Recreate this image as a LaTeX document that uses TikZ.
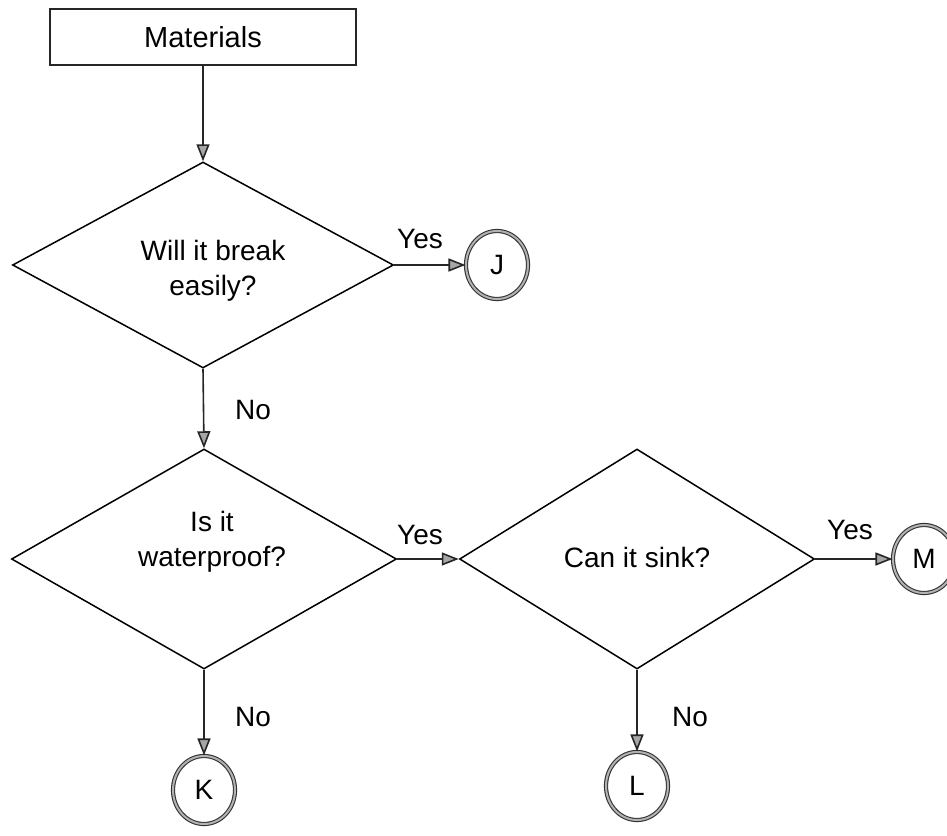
\documentclass[tikz,border=0pt]{standalone}
\usepackage{fontspec}
\setmainfont{Liberation Sans}
\usetikzlibrary{shapes.geometric,arrows.meta}
\begin{document}
\begin{tikzpicture}[x=1pt,y=-1pt,
  every node/.style={font=\fontsize{28}{35}\selectfont},
  proc/.style={draw=black!85, line width=1.5pt, minimum width=306pt, minimum height=56pt, inner sep=0pt, font=\fontsize{29}{35}\selectfont},
  decision/.style={draw=black, line width=1.5pt, diamond, inner sep=0pt},
  dtext/.style={align=center, inner sep=0pt},
  term/.style={draw=black!80, line width=1.1pt, double=gray!60, double distance=2pt, ellipse, minimum width=62pt, minimum height=68pt, inner sep=0pt},
  flow/.style={draw=black!85, line width=1.6pt, -{Triangle[length=17pt,width=13pt,fill=gray!70]}},
  lbl/.style={inner sep=0pt}
]
\useasboundingbox (0,0) rectangle (947,835);
% start box
\node[proc] (mat) at (203,37) {Materials};
% decisions
\node[decision, minimum width=381pt, minimum height=206pt] (d1) at (203,265) {};
\node[dtext] (t1) at (213,271) {Will it break\\easily?};
\node[decision, minimum width=385pt, minimum height=220pt] (d2) at (204,559) {};
\node[dtext] (t2) at (212,542) {Is it\\waterproof?};
\node[decision, minimum width=355pt, minimum height=220pt] (d3) at (637,559) {};
\node[dtext] (t3) at (637,557) {Can it sink?};
% terminals
\node[term] (J) at (497,265) {J};
\node[term] (M) at (924,559) {M};
\node[term] (K) at (204,790) {K};
\node[term] (L) at (637,786) {L};
% connectors
\draw[flow] (mat) -- (d1.north);
\draw[flow] (d1.east) -- (J.west);
\draw[flow] (d1.south) -- (d2.north);
\draw[flow] (d2.east) -- (d3.west);
\draw[flow] (d3.east) -- (M.west);
\draw[flow] (d2.south) -- (K.north);
\draw[flow] (d3.south) -- (L.north);
% labels
\node[lbl] (y1) at (420,239) {Yes};
\node[lbl] (n1) at (253,410) {No};
\node[lbl] (y2) at (420,535) {Yes};
\node[lbl] (y3) at (850,530) {Yes};
\node[lbl] (n2) at (253,717) {No};
\node[lbl] (n3) at (690,717) {No};
\end{tikzpicture}
\end{document}
